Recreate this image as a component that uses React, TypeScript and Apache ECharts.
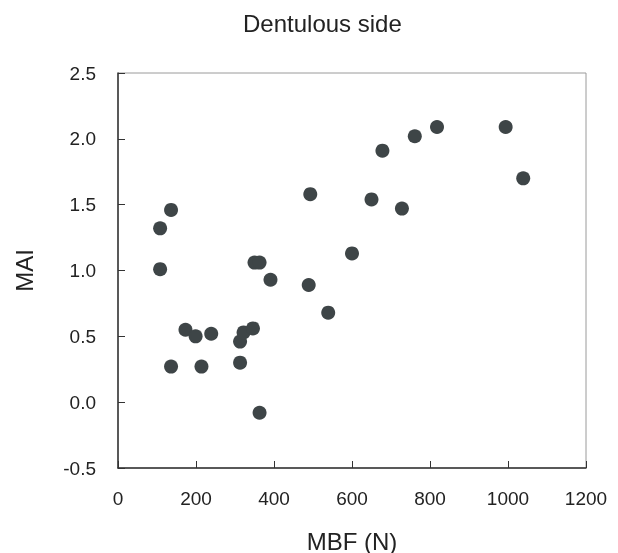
import React, { useEffect, useRef } from "react";
import * as echarts from "echarts";

const titleText = "Dentulous side";
const xName = "MBF (N)";
const yName = "MAI";

const mbf = [108, 136, 108, 493, 350, 363, 391, 489, 539, 173, 199, 239, 136, 214, 313, 313, 322, 346, 363, 600, 650, 728, 678, 761, 818, 994, 1039];
const mai = [1.32, 1.46, 1.01, 1.58, 1.06, 1.06, 0.93, 0.89, 0.68, 0.55, 0.5, 0.52, 0.27, 0.27, 0.3, 0.46, 0.53, 0.56, -0.08, 1.13, 1.54, 1.47, 1.91, 2.02, 2.09, 2.09, 1.7];

export default function App() {
  const ref = useRef<HTMLDivElement>(null);
  useEffect(() => {
    if (!ref.current) return;
    const chart = echarts.init(ref.current, undefined, { renderer: "svg" });
    const font = "'Liberation Sans', Arial, Helvetica, sans-serif";
    chart.setOption({
      animation: false,
      textStyle: { fontFamily: font },
      title: {
        text: titleText,
        left: 243,
        top: 11,
        padding: 0,
        textStyle: { fontSize: 24, fontWeight: "normal", color: "#222", fontFamily: font },
      },
      grid: {
        left: 118,
        top: 73,
        right: 32,
        bottom: 85,
        outerBoundsMode: "none",
        containLabel: false,
        show: true,
        borderColor: "#9a9a9a",
        borderWidth: 1,
        backgroundColor: "transparent",
      },
      xAxis: {
        type: "value",
        min: 0,
        max: 1200,
        interval: 200,
        name: xName,
        nameLocation: "middle",
        nameGap: 61,
        nameTextStyle: { fontSize: 24, color: "#222", fontFamily: font },
        axisLine: { show: true, onZero: false, lineStyle: { color: "#333", width: 1.5 } },
        axisTick: { show: true, inside: true, length: 7, lineStyle: { color: "#333" } },
        axisLabel: {
          fontSize: 19,
          color: "#222",
          margin: 21,
          fontFamily: font,
          formatter: (v: number) => String(v),
        },
        splitLine: { show: false },
      },
      yAxis: {
        type: "value",
        min: -0.5,
        max: 2.5,
        interval: 0.5,
        name: yName,
        nameLocation: "middle",
        nameGap: 82,
        nameTextStyle: { fontSize: 24, color: "#222", fontFamily: font },
        axisLine: { show: true, onZero: false, lineStyle: { color: "#333", width: 1.5 } },
        axisTick: { show: true, inside: true, length: 7, lineStyle: { color: "#333" } },
        axisLabel: {
          fontSize: 19,
          color: "#222",
          margin: 22,
          fontFamily: font,
          formatter: (v: number) => v.toFixed(1),
        },
        splitLine: { show: false },
      },
      series: [
        {
          type: "scatter",
          symbol: "circle",
          symbolSize: 14,
          itemStyle: { color: "#3e4547", opacity: 1 },
          data: mbf.map((x, i) => [x, mai[i]]),
        },
      ],
    });
    return () => chart.dispose();
  }, []);
  return (
    <div
      ref={ref}
      style={{ position: "fixed", left: 0, top: 0, width: 618, height: 553 }}
    />
  );
}
